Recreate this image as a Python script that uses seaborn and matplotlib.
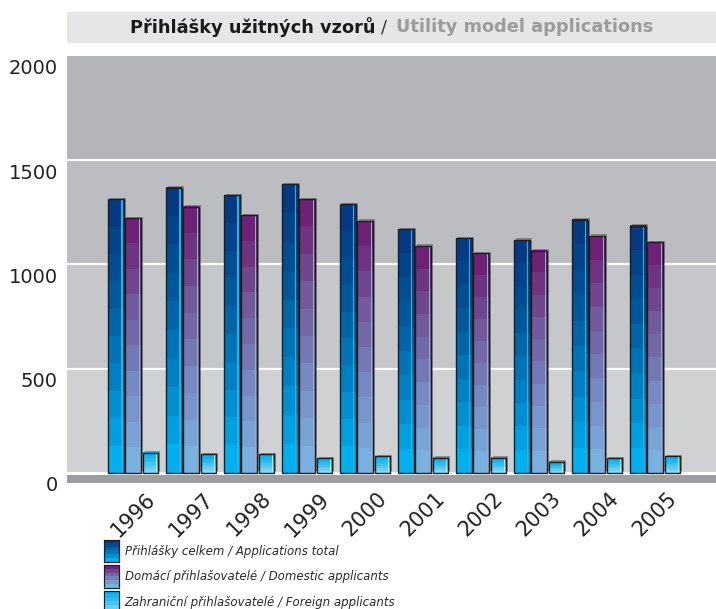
import numpy as np
import pandas as pd
import matplotlib
matplotlib.use('Agg')
import matplotlib.pyplot as plt
import seaborn as sns
from matplotlib.patches import Patch, Rectangle
from matplotlib.colors import LinearSegmentedColormap
from matplotlib.transforms import ScaledTranslation
import matplotlib.patheffects as pe

# data
years = ['1996', '1997', '1998', '1999', '2000', '2001', '2002', '2003', '2004', '2005']
total = [1313, 1367, 1331, 1385, 1288, 1168, 1126, 1117, 1214, 1187]
domestic = [1222, 1278, 1235, 1313, 1208, 1088, 1054, 1065, 1136, 1107]
foreign = [97, 90, 90, 70, 80, 72, 73, 53, 70, 80]
series = ['Přihlášky celkem / Applications total',
          'Domácí přihlašovatelé / Domestic applicants',
          'Zahraniční přihlašovatelé / Foreign applicants']
yticks = [0, 500, 1000, 1500, 2000]

# colour stops (top -> bottom) for the stepped bar gradients
grad_stops = [['#053a82', '#00589a', '#0080c4', '#00b0ee'],
              ['#6e2176', '#725a9c', '#7689c2', '#78b0e0'],
              ['#00aeee', '#3cc0f0', '#86daf7']]
mid_colors = ['#0070b8', '#7370a8', '#30bcf0']
edge_hi = ['#1eb4f0', '#9aa8d8', '#b0e6fa']

sns.set_style('white')
plt.rcParams['font.family'] = ['DejaVu Sans']

df = pd.DataFrame({
    'year': years * 3,
    'value': total + domestic + foreign,
    'series': [series[0]] * 10 + [series[1]] * 10 + [series[2]] * 10,
})

fig = plt.figure(figsize=(7.16, 6.09), dpi=100)
ax = fig.add_axes([67 / 716, 1 - 483 / 609, 649 / 716, (483 - 56) / 609])

# banded background
ax.axhspan(1500, 2000, color='#b4b5b8', zorder=0, lw=0)
ax.axhspan(1000, 1500, color='#bcbdc0', zorder=0, lw=0)
ax.axhspan(500, 1000, color='#c6c7ca', zorder=0, lw=0)
ax.axhspan(0, 500, color='#d0d1d3', zorder=0, lw=0)
ax.axhspan(-48, -12, color='#9d9ea1', zorder=0, lw=0)
for v in [0, 500, 1000, 1500]:
    ax.axhline(v, color='white', lw=1.5, zorder=1)

sns.barplot(data=df, x='year', y='value', hue='series', hue_order=series,
            palette=mid_colors, width=0.9, gap=0.1, edgecolor='none',
            linewidth=0, legend=False, ax=ax, zorder=3)


def stepped(stops, n=10):
    cmap = LinearSegmentedColormap.from_list('g', stops)
    cols = np.array([cmap(i / (n - 1))[:3] for i in range(n)])
    return cols.reshape(n, 1, 3)


# stepped gradient fill inside each bar, shadow below, outline on top
for k, cont in enumerate(ax.containers):
    img = stepped(grad_stops[k])
    for bar in cont:
        x0, w, h = bar.get_x(), bar.get_width(), bar.get_height()
        bar.set_path_effects([pe.SimplePatchShadow(offset=(1.5, 1.2), shadow_rgbFace='#555555', alpha=0.55),
                              pe.Normal()])
        ax.imshow(img, extent=[x0, x0 + w, 0, h], aspect='auto', zorder=3.5,
                  interpolation='nearest', origin='upper')
        ax.add_patch(Rectangle((x0 + w - 0.04, 0), 0.022, h, color=edge_hi[k], lw=0, zorder=3.6))
        ax.add_patch(Rectangle((x0, 0), w, h, facecolor='none', edgecolor='#1e1e1e', lw=1, zorder=4))

ax.set_xlim(-1.14, 10.05)
ax.set_ylim(-48, 2000)
ax.set_aspect('auto')
sns.despine(ax=ax, left=True, bottom=True)
ax.set_xlabel('')
ax.set_ylabel('')
ax.set_yticks(yticks)
ax.set_yticklabels([str(v) for v in yticks], fontsize=14, color='#222222')
ax.set_xticks(range(len(years)))
ax.set_xticklabels(years, fontsize=15, color='#222222', rotation=45, ha='center')
ax.tick_params(axis='y', length=0, pad=6.5)
ax.tick_params(axis='x', length=0, pad=4)
for lab in ax.get_yticklabels():
    lab.set_transform(lab.get_transform() + ScaledTranslation(0, -11 / 100, fig.dpi_scale_trans))

# title box
fig.patches.append(Rectangle((67 / 716, 1 - 42 / 609), 649 / 716, 30 / 609,
                             transform=fig.transFigure, color='#e6e6e8', zorder=0))
ty = 1 - 27 / 609
fig.text(376 / 716, ty, 'Přihlášky užitných vzorů', ha='right', va='center',
         fontsize=12.8, fontweight='bold', color='#1a1a1a')
fig.text(381 / 716, ty, '/', ha='left', va='center', fontsize=12.8, color='#333333')
fig.text(396 / 716, ty, 'Utility model applications', ha='left', va='center',
         fontsize=12.8, fontweight='bold', color='#9c9c9e')

# legend
handles = [Patch(facecolor=c, edgecolor='#1e1e1e', lw=0.8) for c in mid_colors]
leg = fig.legend(handles, series, loc='upper left', bbox_to_anchor=(104 / 716, 1 - 540 / 609),
                 frameon=False, prop={'size': 8.5, 'style': 'italic'},
                 handlelength=1.3, handleheight=2.55, labelspacing=0.25, handletextpad=0.45,
                 borderpad=0, borderaxespad=0, labelcolor='#2a2a2a')

fig.canvas.draw()
inv = fig.transFigure.inverted()
for k, h in enumerate(leg.legend_handles):
    bb = h.get_window_extent().transformed(inv)
    lax = fig.add_axes([bb.x0, bb.y0, bb.width, bb.height])
    lax.set_zorder(10)
    lax.imshow(stepped(grad_stops[k], 6), aspect='auto', interpolation='nearest')
    lax.set_xticks([])
    lax.set_yticks([])
    for s in lax.spines.values():
        s.set_color('#1e1e1e')
        s.set_linewidth(0.8)

fig.savefig('out.png', dpi=100)
